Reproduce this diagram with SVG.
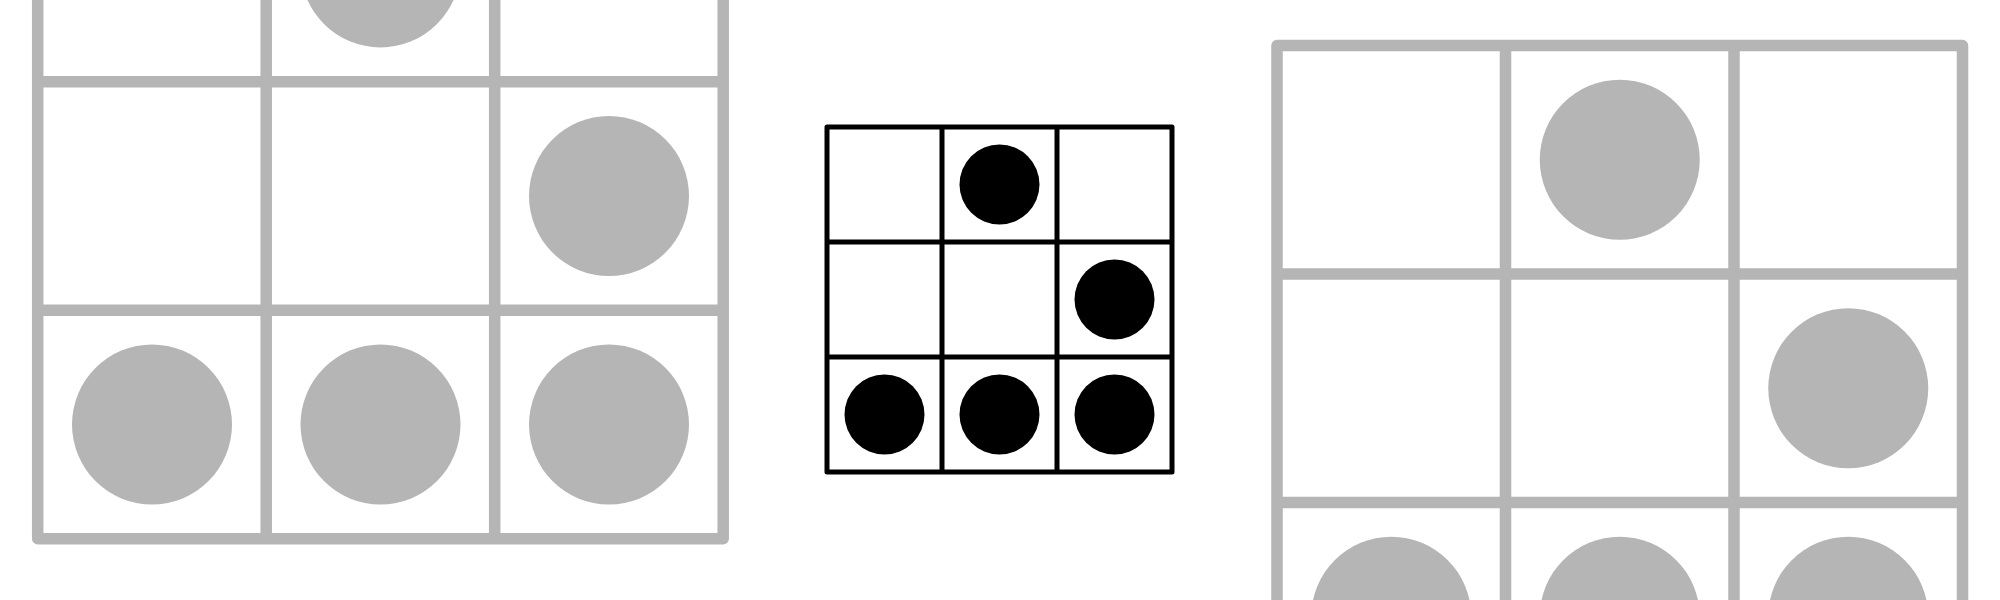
<svg xmlns="http://www.w3.org/2000/svg" width="2000" height="600" viewBox="0 0 2000 600">
  <style>
    .gframe { fill: #ffffff; stroke: #b5b5b5; stroke-width: 11.5; stroke-linejoin: round; }
    .gline { stroke: #b5b5b5; stroke-width: 11.5; }
    .gdot { fill: #b5b5b5; }
    .bframe { fill: #ffffff; stroke: #000000; stroke-width: 5; stroke-linejoin: round; }
    .bline { stroke: #000000; stroke-width: 5; }
    .bdot { fill: #000000; }
  </style>
  <rect x="0" y="0" width="2000" height="600" fill="#ffffff"/>

  <g id="left-glider">
    <rect class="gframe" x="37.7" y="-146.8" width="685.5" height="685.5"/>
    <line class="gline" x1="266.2" y1="-146.8" x2="266.2" y2="538.7"/>
    <line class="gline" x1="494.7" y1="-146.8" x2="494.7" y2="538.7"/>
    <line class="gline" x1="37.7" y1="81.7" x2="723.2" y2="81.7"/>
    <line class="gline" x1="37.7" y1="310.2" x2="723.2" y2="310.2"/>
    <circle class="gdot" cx="380.5" cy="-32.6" r="80"/>
    <circle class="gdot" cx="609" cy="196" r="80"/>
    <circle class="gdot" cx="152" cy="424.5" r="80"/>
    <circle class="gdot" cx="380.5" cy="424.5" r="80"/>
    <circle class="gdot" cx="609" cy="424.5" r="80"/>
  </g>

  <g id="center-glider">
    <rect class="bframe" x="827" y="127" width="345" height="345"/>
    <line class="bline" x1="942" y1="127" x2="942" y2="472"/>
    <line class="bline" x1="1057" y1="127" x2="1057" y2="472"/>
    <line class="bline" x1="827" y1="242" x2="1172" y2="242"/>
    <line class="bline" x1="827" y1="357" x2="1172" y2="357"/>
    <circle class="bdot" cx="999.5" cy="184.5" r="40"/>
    <circle class="bdot" cx="1114.5" cy="299.5" r="40"/>
    <circle class="bdot" cx="884.5" cy="414.5" r="40"/>
    <circle class="bdot" cx="999.5" cy="414.5" r="40"/>
    <circle class="bdot" cx="1114.5" cy="414.5" r="40"/>
  </g>

  <g id="right-glider">
    <rect class="gframe" x="1277" y="45.5" width="685.5" height="685.5"/>
    <line class="gline" x1="1505.5" y1="45.5" x2="1505.5" y2="731"/>
    <line class="gline" x1="1734" y1="45.5" x2="1734" y2="731"/>
    <line class="gline" x1="1277" y1="274" x2="1962.5" y2="274"/>
    <line class="gline" x1="1277" y1="502.5" x2="1962.5" y2="502.5"/>
    <circle class="gdot" cx="1619.75" cy="159.75" r="80"/>
    <circle class="gdot" cx="1848.25" cy="388.25" r="80"/>
    <circle class="gdot" cx="1391.25" cy="616.75" r="80"/>
    <circle class="gdot" cx="1619.75" cy="616.75" r="80"/>
    <circle class="gdot" cx="1848.25" cy="616.75" r="80"/>
  </g>
</svg>
